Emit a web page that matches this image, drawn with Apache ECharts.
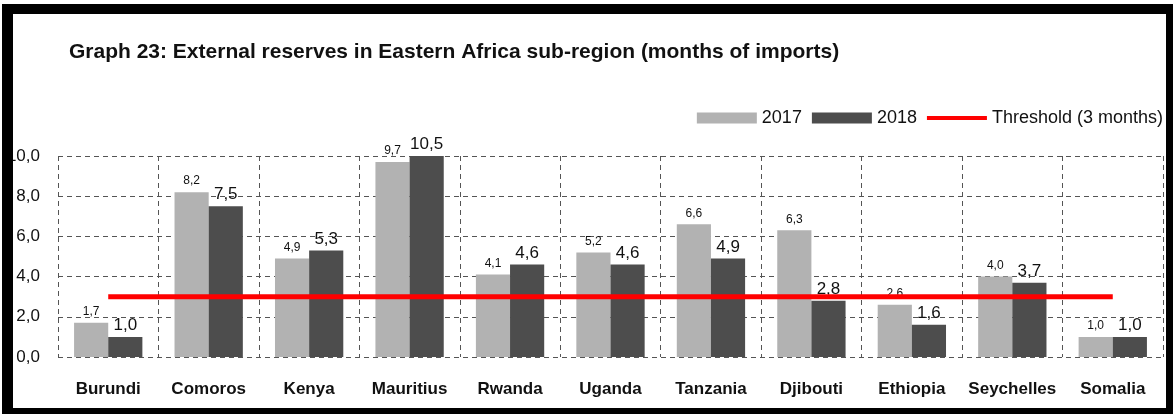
<!DOCTYPE html>
<html>
<head>
<meta charset="utf-8">
<script src="https://cdn.jsdelivr.net/npm/echarts@6/dist/echarts.min.js"></script>
<style>
  html, body { margin: 0; padding: 0; background: #fff; }
  #chart { width: 1173px; height: 414px; }
</style>
</head>
<body>
<div id="chart"></div>
<script>
// Countries of the Eastern Africa sub-region
const countries = ['Burundi', 'Comoros', 'Kenya', 'Mauritius', 'Rwanda', 'Uganda',
  'Tanzania', 'Djibouti', 'Ethiopia', 'Seychelles', 'Somalia'];
// External reserves, months of imports
const reserves2017 = [1.7, 8.2, 4.9, 9.7, 4.1, 5.2, 6.6, 6.3, 2.6, 4.0, 1.0];
const reserves2018 = [1.0, 7.5, 5.3, 10.5, 4.6, 4.6, 4.9, 2.8, 1.6, 3.7, 1.0];
// Adequacy threshold of 3 months for every country
const thresholdMonths = [3, 3, 3, 3, 3, 3, 3, 3, 3, 3, 3];
const yTicks = { min: 0, max: 10, interval: 2 };

const fmt = v => v.toFixed(1).replace('.', ',');
const FONT = '"Liberation Sans", Arial, sans-serif';
const dashed = { color: '#555', width: 1, type: [5, 4] };

const chart = echarts.init(document.getElementById('chart'), null, { renderer: 'canvas' });
chart.setOption({
  animation: false,
  backgroundColor: '#fff',
  textStyle: { fontFamily: FONT },
  title: {
    text: 'Graph 23: External reserves in Eastern Africa sub-region (months of imports)',
    left: 64, top: 37,
    textStyle: { fontFamily: FONT, fontSize: 21, fontWeight: 'bold', color: '#111' }
  },
  legend: {
    right: 5, top: 104,
    itemWidth: 60, itemHeight: 11, itemGap: 10,
    textStyle: { fontFamily: FONT, fontSize: 18, color: '#111' },
    data: [
      { name: '2017', icon: 'rect' },
      { name: '2018', icon: 'rect' },
      { name: 'Threshold (3 months)', icon: 'path://M0,0L60,0L60,4L0,4Z' }
    ]
  },
  grid: { left: 58, right: 10, top: 156, bottom: 57 },
  xAxis: {
    type: 'category',
    data: countries,
    axisLine: { show: false },
    axisTick: { show: false },
    splitLine: { show: true, lineStyle: dashed },
    axisLabel: { interval: 0, fontFamily: FONT, fontSize: 17, fontWeight: 'bold', color: '#111', margin: 24 }
  },
  yAxis: {
    type: 'value',
    min: yTicks.min, max: yTicks.max, interval: yTicks.interval,
    axisLine: { show: false },
    axisTick: { show: false },
    splitLine: { show: true, lineStyle: dashed },
    axisLabel: { fontFamily: FONT, fontSize: 17, color: '#111', margin: 18, formatter: fmt }
  },
  series: [
    {
      name: '2017', type: 'bar', data: reserves2017,
      barGap: '0%', barCategoryGap: '32%',
      itemStyle: { color: '#b2b2b2' },
      label: { show: true, position: 'top', distance: 5, fontFamily: FONT, fontSize: 12, color: '#111',
        formatter: p => fmt(p.value) }
    },
    {
      name: '2018', type: 'bar', data: reserves2018,
      itemStyle: { color: '#4d4d4d' },
      label: { show: true, position: 'top', distance: 3, fontFamily: FONT, fontSize: 17, color: '#111',
        formatter: p => fmt(p.value) }
    },
    {
      name: 'Threshold (3 months)', type: 'line', data: thresholdMonths,
      symbol: 'none', z: 5,
      lineStyle: { color: '#ff0000', width: 5 },
      itemStyle: { color: '#ff0000' }
    }
  ],
  graphic: [
    // heavy black frame around the figure
    { type: 'rect', z: 100, shape: { x: 5, y: 4, width: 1168, height: 10 }, style: { fill: '#000' } },
    { type: 'rect', z: 100, shape: { x: 2, y: 4, width: 11, height: 410 }, style: { fill: '#000' } },
    { type: 'rect', z: 100, shape: { x: 1166, y: 4, width: 7, height: 410 }, style: { fill: '#000' } },
    { type: 'rect', z: 100, shape: { x: 2, y: 408, width: 1171, height: 6 }, style: { fill: '#000' } }
  ]
});
</script>
</body>
</html>
